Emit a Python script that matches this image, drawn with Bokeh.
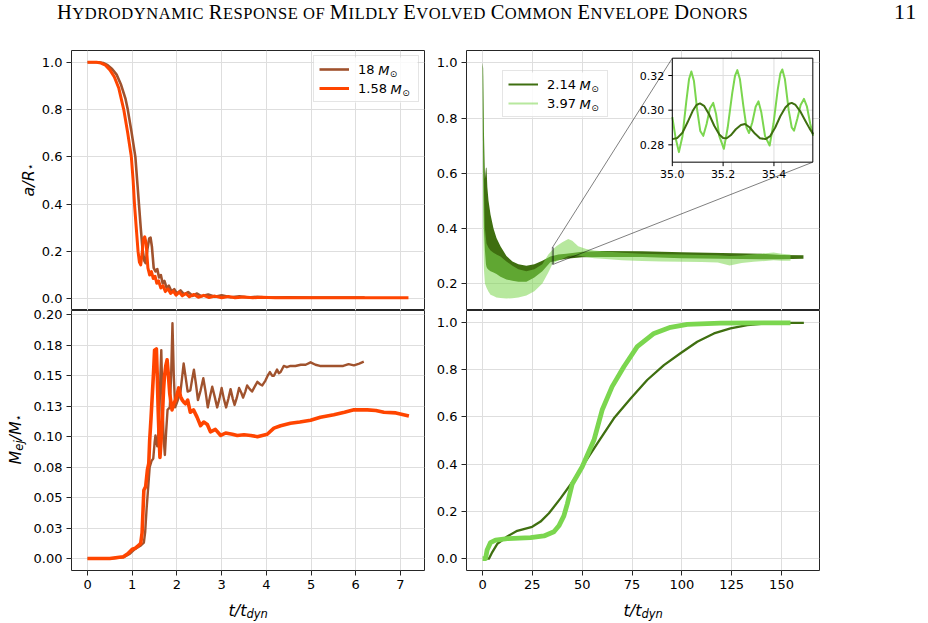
import numpy as np
from bokeh.plotting import figure
from bokeh.models import (Range1d, FixedTicker, Label, Legend, LegendItem, Div, PrintfTickFormatter,
                          BoxAnnotation)
from bokeh.layouts import column, row
from bokeh.core.properties import value
from bokeh.embed import file_html
from bokeh.resources import INLINE

# ---------------- data ----------------
# top-left: a/R* vs t/t_dyn
t_a18 = [0.0, 0.25, 0.35, 0.45, 0.55, 0.65, 0.75, 0.85, 0.90, 0.98, 1.07, 1.11, 1.15, 1.19, 1.23, 1.27, 1.30, 1.34, 1.38, 1.41,
         1.44, 1.48, 1.52, 1.56, 1.60, 1.64, 1.68, 1.72, 1.77, 1.82, 1.88, 1.94, 2.00, 2.08, 2.16, 2.25, 2.35, 2.45, 2.55, 2.70,
         2.85, 3.00, 3.20, 3.40, 3.60, 3.80, 4.00, 4.50, 5.00, 5.60, 6.20]
a_18 = [1.0, 1.0, 0.997, 0.988, 0.972, 0.948, 0.905, 0.845, 0.80, 0.71, 0.60, 0.50, 0.40, 0.30, 0.21, 0.16, 0.15, 0.21, 0.255, 0.258,
        0.22, 0.13, 0.115, 0.125, 0.09, 0.10, 0.065, 0.075, 0.045, 0.055, 0.03, 0.04, 0.022, 0.035, 0.018, 0.028, 0.012, 0.022, 0.010, 0.018,
        0.008, 0.014, 0.006, 0.010, 0.005, 0.008, 0.005, 0.006, 0.005, 0.005, 0.005]
t_a158 = [0.0, 0.20, 0.30, 0.40, 0.50, 0.60, 0.70, 0.81, 0.90, 0.98, 1.02, 1.05, 1.09, 1.13, 1.16, 1.19, 1.22, 1.25, 1.28, 1.31,
          1.35, 1.39, 1.43, 1.47, 1.51, 1.55, 1.59, 1.64, 1.69, 1.74, 1.80, 1.86, 1.92, 1.98, 2.05, 2.12, 2.20, 2.28, 2.38, 2.48,
          2.60, 2.72, 2.85, 3.00, 3.15, 3.30, 3.50, 3.70, 3.90, 4.20, 4.60, 5.20, 6.00, 6.60, 7.18]
a_158 = [1.0, 1.0, 0.997, 0.988, 0.968, 0.938, 0.89, 0.80, 0.70, 0.60, 0.50, 0.40, 0.30, 0.20, 0.155, 0.143, 0.19, 0.25, 0.262, 0.235,
         0.13, 0.10, 0.115, 0.085, 0.095, 0.065, 0.075, 0.045, 0.055, 0.03, 0.042, 0.022, 0.032, 0.015, 0.028, 0.012, 0.022, 0.008, 0.018, 0.006,
         0.014, 0.005, 0.011, 0.004, 0.009, 0.004, 0.007, 0.004, 0.006, 0.004, 0.004, 0.004, 0.004, 0.004, 0.004]

# bottom-left: M_ej/M* vs t/t_dyn
t_m18 = [0.0, 0.50, 0.80, 0.95, 1.05, 1.11, 1.20, 1.26, 1.29, 1.32, 1.36, 1.39, 1.43, 1.47, 1.50, 1.52, 1.56, 1.59, 1.61, 1.63,
         1.65, 1.67, 1.70, 1.73, 1.76, 1.79, 1.84, 1.87, 1.90, 1.93, 1.96, 2.01, 2.08, 2.12, 2.15, 2.19, 2.24, 2.30, 2.34, 2.38,
         2.43, 2.47, 2.53, 2.59, 2.64, 2.69, 2.74, 2.79, 2.85, 2.90, 2.95, 3.00, 3.05, 3.10, 3.15, 3.20, 3.25, 3.29, 3.34, 3.39,
         3.44, 3.48, 3.53, 3.57, 3.63, 3.68, 3.74, 3.80, 3.86, 3.91, 3.98, 4.03, 4.08, 4.13, 4.17, 4.24, 4.28, 4.32, 4.39, 4.46,
         4.54, 4.65, 4.77, 4.88, 4.99, 5.10, 5.20, 5.30, 5.45, 5.60, 5.72, 5.84, 5.96, 6.08, 6.18]
m_18 = [0.0, 0.0, 0.001, 0.004, 0.0075, 0.0088, 0.011, 0.013, 0.022, 0.040, 0.060, 0.075, 0.080, 0.082, 0.095, 0.101, 0.092, 0.105, 0.122, 0.150,
        0.171, 0.140, 0.100, 0.085, 0.105, 0.122, 0.124, 0.150, 0.193, 0.150, 0.124, 0.129, 0.137, 0.150, 0.160, 0.150, 0.137, 0.138, 0.147, 0.155,
        0.142, 0.130, 0.138, 0.148, 0.137, 0.124, 0.133, 0.141, 0.132, 0.124, 0.131, 0.140, 0.131, 0.124, 0.131, 0.139, 0.131, 0.126, 0.132, 0.140,
        0.136, 0.132, 0.137, 0.142, 0.139, 0.137, 0.141, 0.145, 0.143, 0.142, 0.146, 0.150, 0.153, 0.150, 0.150, 0.155, 0.152, 0.153, 0.158, 0.157,
        0.158, 0.158, 0.159, 0.159, 0.161, 0.159, 0.158, 0.158, 0.158, 0.158, 0.158, 0.1595, 0.1585, 0.160, 0.1615]
t_m158 = [0.0, 0.50, 0.80, 0.90, 1.00, 1.07, 1.15, 1.19, 1.22, 1.26, 1.30, 1.34, 1.37, 1.39, 1.42, 1.45, 1.48, 1.50, 1.54, 1.56,
          1.58, 1.60, 1.62, 1.65, 1.67, 1.70, 1.72, 1.75, 1.78, 1.81, 1.84, 1.89, 1.93, 1.97, 2.04, 2.08, 2.12, 2.16, 2.19, 2.24,
          2.30, 2.37, 2.45, 2.53, 2.60, 2.68, 2.75, 2.86, 2.98, 3.09, 3.24, 3.35, 3.50, 3.65, 3.80, 4.02, 4.17, 4.32, 4.54, 4.75,
          4.99, 5.21, 5.51, 5.75, 5.96, 6.26, 6.45, 6.63, 6.90, 7.19]
m_158 = [0.0, 0.0, 0.0015, 0.004, 0.0077, 0.0085, 0.011, 0.0126, 0.021, 0.056, 0.059, 0.073, 0.078, 0.097, 0.115, 0.135, 0.155, 0.171, 0.172, 0.150,
         0.122, 0.100, 0.083, 0.100, 0.113, 0.138, 0.149, 0.158, 0.163, 0.150, 0.135, 0.122, 0.127, 0.130, 0.140, 0.133, 0.130, 0.128, 0.127, 0.130,
         0.120, 0.122, 0.116, 0.109, 0.112, 0.110, 0.104, 0.106, 0.101, 0.103, 0.102, 0.101, 0.1015, 0.101, 0.100, 0.102, 0.107, 0.109, 0.111, 0.112,
         0.1135, 0.116, 0.118, 0.120, 0.122, 0.122, 0.1215, 0.120, 0.1195, 0.117]

# top-right: a/R* envelope of the rapidly oscillating separations
t_b214 = [0.0, 0.3, 0.7, 1.2, 1.7, 2.0, 2.4, 3.0, 4.0, 5.5, 7.0, 9.0, 12.0, 15.0, 18.0, 22.0, 26.0, 30.0, 34.0, 38.0,
          42.0, 50.0, 60.0, 80.0, 100.0, 120.0, 140.0, 150.0, 161.0]
a_b214_hi = [1.0, 0.98, 0.75, 0.58, 0.62, 0.62, 0.55, 0.50, 0.45, 0.40, 0.365, 0.335, 0.30, 0.28, 0.27, 0.265, 0.27, 0.283, 0.298, 0.305,
             0.308, 0.315, 0.318, 0.317, 0.314, 0.311, 0.308, 0.304, 0.303]
a_b214_lo = [1.0, 0.60, 0.40, 0.32, 0.27, 0.26, 0.255, 0.25, 0.245, 0.24, 0.235, 0.225, 0.215, 0.21, 0.207, 0.207, 0.222, 0.245, 0.277, 0.285,
             0.29, 0.295, 0.296, 0.296, 0.292, 0.29, 0.288, 0.288, 0.29]
t_b397 = [0.0, 0.3, 0.7, 1.2, 2.0, 3.0, 4.0, 5.5, 7.0, 9.0, 12.0, 15.0, 18.0, 22.0, 26.0, 30.0, 33.0, 35.0, 37.0, 40.0,
          43.0, 45.0, 48.0, 52.0, 56.0, 60.0, 70.0, 80.0, 90.0, 100.0, 110.0, 118.0, 124.0, 130.0, 136.0, 142.0, 146.0, 150.0, 154.5]
a_b397_hi = [1.0, 0.95, 0.55, 0.40, 0.345, 0.33, 0.32, 0.312, 0.305, 0.298, 0.28, 0.265, 0.252, 0.245, 0.252, 0.27, 0.305, 0.322, 0.335, 0.35,
             0.362, 0.355, 0.335, 0.325, 0.32, 0.317, 0.312, 0.308, 0.306, 0.305, 0.304, 0.303, 0.30, 0.302, 0.306, 0.31, 0.313, 0.308, 0.305]
a_b397_lo = [1.0, 0.40, 0.25, 0.20, 0.185, 0.17, 0.16, 0.155, 0.15, 0.148, 0.146, 0.147, 0.15, 0.157, 0.172, 0.20, 0.24, 0.27, 0.28, 0.29,
             0.30, 0.302, 0.302, 0.296, 0.292, 0.29, 0.285, 0.282, 0.28, 0.279, 0.278, 0.276, 0.266, 0.275, 0.279, 0.282, 0.285, 0.283, 0.283]

# inset: a/R* between t = 35.0 and 35.55
t_in214 = [35.000, 35.020, 35.040, 35.060, 35.080, 35.095, 35.109, 35.125, 35.145, 35.165, 35.185, 35.200, 35.214, 35.230, 35.250,
           35.270, 35.286, 35.305, 35.325, 35.345, 35.367, 35.385, 35.405, 35.425, 35.445, 35.460, 35.470, 35.485, 35.505, 35.525,
           35.540, 35.554]
a_in214 = [0.2833, 0.2840, 0.2870, 0.2930, 0.2995, 0.3030, 0.3039, 0.3025, 0.2975, 0.2910, 0.2860, 0.2840, 0.2838, 0.2855, 0.2890,
           0.2915, 0.2920, 0.2900, 0.2865, 0.2838, 0.2833, 0.2850, 0.2900, 0.2965, 0.3015, 0.3037, 0.3042, 0.3030, 0.2990, 0.2935,
           0.2895, 0.2862]
t_in397 = [35.000, 35.013, 35.026, 35.040, 35.055, 35.066, 35.075, 35.085, 35.098, 35.110, 35.122, 35.135, 35.148, 35.161, 35.172,
           35.185, 35.203, 35.218, 35.236, 35.247, 35.256, 35.266, 35.280, 35.292, 35.302, 35.315, 35.328, 35.339, 35.350, 35.365,
           35.383, 35.398, 35.415, 35.425, 35.433, 35.443, 35.458, 35.470, 35.479, 35.492, 35.505, 35.518, 35.530, 35.543, 35.554]
a_in397 = [0.296, 0.284, 0.2758, 0.285, 0.305, 0.318, 0.3223, 0.317, 0.300, 0.288, 0.2852, 0.292, 0.301, 0.3042, 0.298,
           0.285, 0.2777, 0.290, 0.310, 0.320, 0.3231, 0.318, 0.302, 0.290, 0.2868, 0.293, 0.302, 0.3051, 0.299, 0.285,
           0.2796, 0.292, 0.312, 0.321, 0.3235, 0.318, 0.300, 0.290, 0.2881, 0.295, 0.303, 0.3065, 0.302, 0.292, 0.2852]

# bottom-right: cumulative fraction vs t/t_dyn
t_f214 = [1.0, 3.2, 4.9, 7.4, 12.4, 17.4, 24.9, 29.1, 33.3, 39.1, 45.8, 50.0, 57.6, 65.9, 74.3, 82.6, 91.0, 99.3, 107.7, 116.1,
          124.4, 132.8, 141.1, 149.5, 161.2]
f_214 = [0.0, 0.0, 0.028, 0.063, 0.094, 0.118, 0.135, 0.157, 0.192, 0.255, 0.333, 0.389, 0.488, 0.594, 0.678, 0.756, 0.819, 0.869, 0.918, 0.953,
         0.974, 0.988, 0.995, 0.998, 0.998]
t_f397 = [0.0, 1.5, 2.3, 4.0, 6.5, 12.4, 24.1, 30.8, 35.8, 38.3, 40.8, 42.5, 45.0, 50.0, 55.9, 60.0, 65.0, 70.9, 77.6, 86.0,
          94.3, 102.7, 119.4, 154.5]
f_397 = [0.0, 0.0, 0.037, 0.068, 0.079, 0.085, 0.089, 0.096, 0.114, 0.139, 0.181, 0.231, 0.316, 0.389, 0.502, 0.629, 0.728, 0.812, 0.897, 0.953,
         0.979, 0.991, 0.997, 0.998]

# labels / ticks
legend_left = ["18", "1.58"]
legend_right = ["2.14", "3.97"]
mass_unit = "M"
sun_symbol = "\u2299"
star_symbol = "\u22c6"
left_xticks = [0, 1, 2, 3, 4, 5, 6, 7]
right_xticks = [0, 25, 50, 75, 100, 125, 150]
unit_yticks = [0.0, 0.2, 0.4, 0.6, 0.8, 1.0]
topright_yticks = [0.2, 0.4, 0.6, 0.8, 1.0]
mej_yticks = [0.0, 0.025, 0.05, 0.075, 0.1, 0.125, 0.15, 0.175, 0.2]
mej_ylabels = ["0.00", "0.03", "0.05", "0.08", "0.10", "0.13", "0.15", "0.18", "0.20"]
inset_xticks = [35.0, 35.2, 35.4]
inset_xlabels = ["35.0", "35.2", "35.4"]
inset_yticks = [0.28, 0.30, 0.32]
inset_ylabels = ["0.28", "0.30", "0.32"]
inset_xlim = (35.0, 35.553)
inset_ylim = (0.27, 0.33)
header_text = "Hydrodynamic Response of Mildly Evolved Common Envelope Donors"
page_number = "11"

# ---------------- styling ----------------
FONT = "DejaVu Sans"
BROWN = "#a0522d"
ORANGE = "#ff4500"
DARK = "#3f6f10"
LIGHT = "#7bd64f"
GRID = "#dedede"
SPINE = "#262626"
FW, FH = 353, 260
YLAB_W = 40
LEFT_BORDER = 41
LEG_PAD, LEG_GLYPH, LEG_STANDOFF, LEG_LABEL_W, LEG_ROW, LEG_SPACING = 5, 30, 9, 55, 16, 3
LEG_W = 2 * LEG_PAD + LEG_GLYPH + LEG_STANDOFF + LEG_LABEL_W
LEG_H = 2 * LEG_PAD + 2 * LEG_ROW + LEG_SPACING

def make_fig(xr, yr, bl, br, bt, bb, **kw):
    p = figure(frame_width=FW, frame_height=FH, x_range=xr, y_range=yr,
               min_border_left=bl, min_border_right=br, min_border_top=bt, min_border_bottom=bb,
               output_backend="svg", toolbar_location=None,
               background_fill_color="white", **kw)
    p.outline_line_color = SPINE
    p.outline_line_width = 1
    return p

def style(p, xt, yt, show_x):
    p.xaxis.ticker = FixedTicker(ticks=xt)
    p.yaxis.ticker = FixedTicker(ticks=yt)
    p.xgrid.ticker = FixedTicker(ticks=xt)
    p.ygrid.ticker = FixedTicker(ticks=yt)
    for g in (p.xgrid, p.ygrid):
        g.grid_line_color = GRID
        g.grid_line_width = 1
    for ax in p.axis:
        ax.axis_line_color = None
        ax.major_tick_out = 5
        ax.major_tick_in = 0
        ax.minor_tick_out = 0
        ax.minor_tick_in = 0
        ax.major_tick_line_color = SPINE
        ax.major_label_text_font = FONT
        ax.major_label_text_font_size = "13px"
        ax.major_label_text_color = "black"
        ax.major_label_standoff = 4
    if not show_x:
        p.xaxis.visible = False

def add_legend(p, labels, renderers, left, bottom):
    # white translucent backing box (frame-relative screen px), then a transparent legend on top
    p.add_layout(BoxAnnotation(left=left, right=left + LEG_W, bottom=bottom, top=bottom + LEG_H,
                               left_units="screen", right_units="screen",
                               bottom_units="screen", top_units="screen",
                               fill_color="white", fill_alpha=0.85, line_color=None))
    leg = Legend(items=[LegendItem(label=l, renderers=[r]) for l, r in zip(labels, renderers)],
                 location=(left, bottom))
    leg.margin = 0
    leg.label_text_font = FONT
    leg.label_text_font_size = "13px"
    leg.label_text_color = "black"
    leg.glyph_width = LEG_GLYPH
    leg.glyph_height = LEG_ROW
    leg.label_height = LEG_ROW
    leg.label_width = LEG_LABEL_W
    leg.label_standoff = LEG_STANDOFF
    leg.spacing = LEG_SPACING
    leg.padding = LEG_PAD
    leg.border_line_color = "#cccccc"
    leg.border_line_width = 1
    leg.background_fill_alpha = 0.0
    p.add_layout(leg)
    # "M_sun" suffix after each number
    text_x = left + LEG_PAD + LEG_GLYPH + LEG_STANDOFF
    for i, l in enumerate(labels):
        num_w = sum(0.318 if ch == "." else 0.636 for ch in l) * 13 + 4.1
        yc = bottom + LEG_H - LEG_PAD - LEG_ROW / 2 - i * (LEG_ROW + LEG_SPACING)
        frame_label(p, mass_unit, text_x + num_w, yc, 13)
        frame_label(p, sun_symbol, text_x + num_w + 11.6, yc - 3, 9, italic=False)

def frame_label(p, txt, x, y, size, italic=True):
    p.add_layout(Label(x=x, y=y, x_units="screen", y_units="screen", text=txt, level="overlay",
                       text_font=FONT, text_font_size=f"{size}px",
                       text_font_style="italic" if italic else "normal",
                       text_align="left", text_baseline="middle", text_color="black"))

def label_fig(w, h, **kw):
    f = figure(width=w, height=h, x_range=Range1d(0, w), y_range=Range1d(0, h), min_border=0,
               output_backend="svg", toolbar_location=None, outline_line_color=None,
               background_fill_color="white", border_fill_color="white", **kw)
    f.axis.visible = False
    f.grid.visible = False
    return f

def text_pieces(f, x0, y0, parts, vertical=False):
    # parts: (text, size, baseline shift downward, width in em)
    pos = 0.0
    for txt, size, shift, wem in parts:
        if vertical:
            x, y, ang = x0 + shift, y0 + pos, np.pi / 2
        else:
            x, y, ang = x0 + pos, y0 - shift, 0.0
        f.text(x=[x], y=[y], text=[txt], angle=ang, text_font=value(FONT), text_font_size=f"{size}px",
               text_font_style="italic", text_align="left", text_baseline="alphabetic", text_color="black")
        pos += wem * size

x_left = Range1d(-0.359, 7.539)
x_right = Range1d(-8.05, 169.05)

# ---- top-left
p1 = make_fig(x_left, Range1d(-0.05, 1.05), LEFT_BORDER, 2, 10, 0, border_fill_color=None)
style(p1, left_xticks, unit_yticks, False)
p1.yaxis.formatter = PrintfTickFormatter(format="%.1f")
r18 = p1.line(t_a18, a_18, line_color=BROWN, line_width=2.6, line_join="round")
r158 = p1.line(t_a158, a_158, line_color=ORANGE, line_width=3, line_join="round")
add_legend(p1, legend_left, [r18, r158], FW - 7 - LEG_W, FH - 7 - LEG_H)

# ---- bottom-left (canvas overlaps the panel above by 6 px, transparent border)
p3 = make_fig(x_left, Range1d(-0.0098, 0.2035), LEFT_BORDER, 2, 6, 30, border_fill_color=None, margin=(-6, 0, 0, 0))
style(p3, left_xticks, mej_yticks, True)
p3.yaxis.major_label_overrides = dict(zip(mej_yticks, mej_ylabels))
p3.line(t_m18, m_18, line_color=BROWN, line_width=2.4, line_join="round")
p3.line(t_m158, m_158, line_color=ORANGE, line_width=3.6, line_join="round")

# ---- top-right
p2 = make_fig(x_right, Range1d(0.1025, 1.0446), 40, 109, 10, 0, border_fill_color="white")
style(p2, right_xticks, topright_yticks, False)
p2.yaxis.formatter = PrintfTickFormatter(format="%.1f")
p2.varea(x=t_b214, y1=a_b214_lo, y2=a_b214_hi, fill_color=DARK, fill_alpha=1.0)
p2.varea(x=t_b397, y1=a_b397_lo, y2=a_b397_hi, fill_color=LIGHT, fill_alpha=0.55)
proxy214 = p2.line(t_b214, a_b214_hi, line_color=DARK, line_width=2)
proxy397 = p2.line(t_b397, a_b397_hi, line_color=LIGHT, line_alpha=0.55, line_width=2)
proxy214.visible = False
proxy397.visible = False

# inset placement (main-axes data coordinates)
IN_T0, IN_T1 = 95.2, 165.7
IN_A0, IN_A1 = 0.640, 1.0167
p2.quad(left=[inset_xlim[0]], right=[inset_xlim[1]], bottom=[inset_ylim[0]], top=[inset_ylim[1]],
        fill_color=None, line_color="black", line_alpha=0.5, line_width=1)
p2.segment(x0=[inset_xlim[0], inset_xlim[1]], y0=[inset_ylim[1], inset_ylim[0]],
           x1=[IN_T0, IN_T1], y1=[IN_A1, IN_A0], line_color="black", line_alpha=0.5, line_width=1)

ins = p2.subplot(x_source=Range1d(*inset_xlim), y_source=Range1d(*inset_ylim),
                 x_target=Range1d(IN_T0, IN_T1), y_target=Range1d(IN_A0, IN_A1))
ins.quad(left=[inset_xlim[0]], right=[inset_xlim[1]], bottom=[inset_ylim[0]], top=[inset_ylim[1]],
         fill_color="white", line_color=None)
ins.segment(x0=inset_xticks, x1=inset_xticks, y0=[inset_ylim[0]] * 3, y1=[inset_ylim[1]] * 3,
            line_color=GRID, line_width=1)
ins.segment(x0=[inset_xlim[0]] * 3, x1=[inset_xlim[1]] * 3, y0=inset_yticks, y1=inset_yticks,
            line_color=GRID, line_width=1)
ins.line(t_in397, a_in397, line_color=LIGHT, line_width=2, line_join="round")
ins.line(t_in214, a_in214, line_color=DARK, line_width=2, line_join="round")
ins.quad(left=[inset_xlim[0]], right=[inset_xlim[1]], bottom=[inset_ylim[0]], top=[inset_ylim[1]],
         fill_color=None, line_color="black", line_width=1)
ins.ray(x=[inset_xlim[0]] * 3, y=inset_yticks, length=4, angle=np.pi, length_units="screen",
        line_color="black", line_width=1)
ins.ray(x=inset_xticks, y=[inset_ylim[0]] * 3, length=4, angle=-np.pi / 2, length_units="screen",
        line_color="black", line_width=1)
ins.text(x=[inset_xlim[0]] * 3, y=inset_yticks, text=inset_ylabels, x_offset=-8,
         text_align="right", text_baseline="middle", text_font=value(FONT), text_font_size="11px",
         text_color="black")
ins.text(x=inset_xticks, y=[inset_ylim[0]] * 3, text=inset_xlabels, y_offset=8,
         text_align="center", text_baseline="top", text_font=value(FONT), text_font_size="11px",
         text_color="black")

add_legend(p2, legend_right, [proxy214, proxy397], 36, 193)

# ---- bottom-right
p4 = make_fig(x_right, Range1d(-0.05, 1.05), 40, 109, 6, 30, border_fill_color=None, margin=(-6, 0, 0, 0))
style(p4, right_xticks, unit_yticks, True)
p4.yaxis.formatter = PrintfTickFormatter(format="%.1f")
p4.line(t_f214, f_214, line_color=DARK, line_width=2.3, line_join="round")
p4.line(t_f397, f_397, line_color=LIGHT, line_width=4.8, line_join="round")

# ---- axis-title strips (real text, mathtext-like subscripts)
overlap = YLAB_W + LEFT_BORDER - 71
ylab = label_fig(YLAB_W, 560, margin=(0, -overlap, 0, 0))   # page y = 600 - y
text_pieces(ylab, 27.5, 404, [("a/R", 16, 0, 1.645), (star_symbol, 11, 2.5, 0.5)], vertical=True)
text_pieces(ylab, 15, 136, [("M", 16, 0, 0.863), ("ej", 11.5, 3.5, 0.893), ("/M", 16, 0, 1.2),
                            (star_symbol, 11, 2.5, 0.5)], vertical=True)

xlab = label_fig(928, 23)              # page y = 623 - y
TDYN = [("t/t", 16, 0, 1.121), ("dyn", 11.5, 3.5, 1.861)]
text_pieces(xlab, 228, 13.5, TDYN)
text_pieces(xlab, 623, 13.5, TDYN)

# ---- header
def small_caps_html(s, big):
    out = []
    for w in s.split(" "):
        if w[0].isupper():
            out.append(f'<span style="font-size:{big}px">{w[0]}</span>{w[1:].upper()}')
        else:
            out.append(w.upper())
    return " ".join(out)

header_html = (
    '<div style="position:relative;width:928px;height:40px;font-family:\'Liberation Serif\',serif;color:#000;">'
    '<div style="position:absolute;left:57px;top:1px;white-space:nowrap;font-size:16.5px;letter-spacing:0.55px;line-height:22px;">'
    + small_caps_html(header_text, 20.5) +
    '</div>'
    '<div style="position:absolute;left:894px;top:1px;white-space:nowrap;font-size:22px;letter-spacing:1px;line-height:22px;">'
    + page_number + '</div></div>'
)
header = Div(text=header_html, width=928, height=40, margin=0)

layout = column(header,
                row(ylab, column(p1, p3), column(p2, p4)),
                xlab)
open("out.html", "w").write(file_html(layout, INLINE))
